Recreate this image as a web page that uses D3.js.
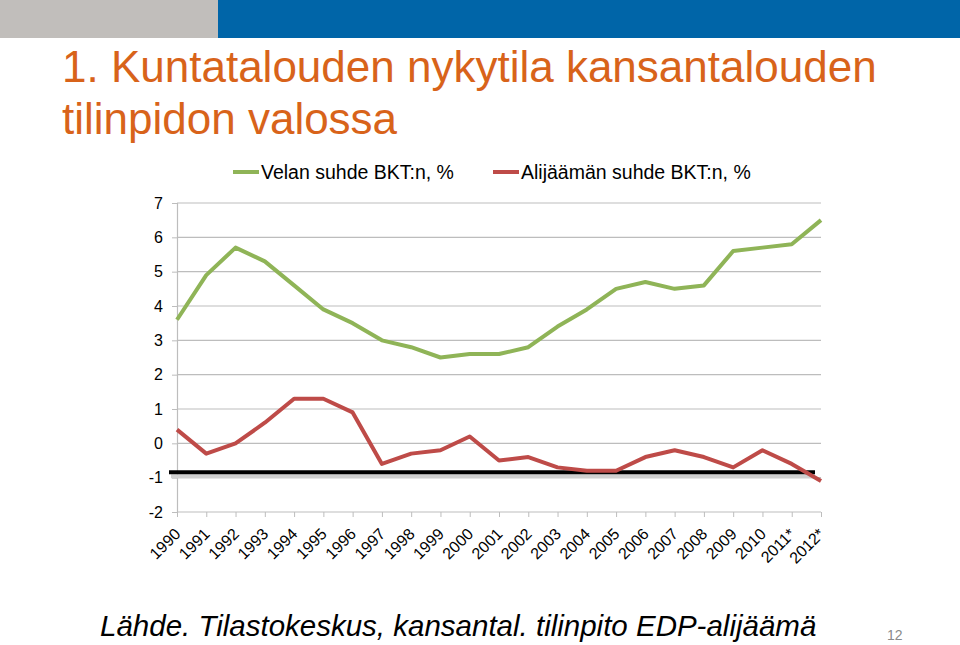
<!DOCTYPE html>
<html>
<head>
<meta charset="utf-8">
<script src="https://cdn.jsdelivr.net/npm/d3@7"></script>
<style>
  body { margin: 0; background: #fff; }
  text { font-family: "Liberation Sans", Arial, sans-serif; }
</style>
</head>
<body>
<div class="chart"></div>
<script>
const years = ["1990", "1991", "1992", "1993", "1994", "1995", "1996", "1997", "1998", "1999", "2000",
  "2001", "2002", "2003", "2004", "2005", "2006", "2007", "2008", "2009", "2010", "2011*", "2012*"];
const velka = [3.6, 4.9, 5.7, 5.3, 4.6, 3.9, 3.5, 3.0, 2.8, 2.5, 2.6, 2.6, 2.8, 3.4, 3.9, 4.5, 4.7, 4.5, 4.6, 5.6, 5.7, 5.8, 6.5];
const alijaama = [0.4, -0.3, 0.0, 0.6, 1.3, 1.3, 0.9, -0.6, -0.3, -0.2, 0.2, -0.5, -0.4, -0.7, -0.8, -0.8, -0.4, -0.2, -0.4, -0.7, -0.2, -0.6, -1.1];
const yTicks = [-2, -1, 0, 1, 2, 3, 4, 5, 6, 7];
const seriesNames = ["Velan suhde BKT:n, %", "Alijäämän suhde BKT:n, %"];
const limitValue = -0.84;

const width = 960, height = 645;
const colors = { green: "#8fb457", red: "#be4b48", title: "#d8631a", grid: "#bdbdbd" };

const svg = d3.select(".chart").append("svg")
  .attr("width", width)
  .attr("height", height);

// top banner
svg.append("rect").attr("x", 0).attr("y", 0).attr("width", 218).attr("height", 38).attr("fill", "#c1bebb");
svg.append("rect").attr("x", 218).attr("y", 0).attr("width", width - 218).attr("height", 38).attr("fill", "#0065a8");

// title
const title = svg.append("text")
  .attr("fill", colors.title)
  .style("font-size", "44px");
title.append("tspan").attr("x", 62).attr("y", 82).text("1. Kuntatalouden nykytila kansantalouden");
title.append("tspan").attr("x", 62).attr("y", 134).text("tilinpidon valossa");

const x = d3.scalePoint().domain(years).range([177, 821]);
const y = d3.scaleLinear().domain([-2, 7]).range([512, 203]);

// gridlines
svg.append("g")
  .selectAll("line")
  .data(yTicks.filter(d => d > -2))
  .join("line")
  .attr("x1", 177).attr("x2", 821)
  .attr("y1", d => y(d)).attr("y2", d => y(d))
  .attr("stroke", colors.grid).attr("stroke-width", 1.2);

// y axis
const yAxis = svg.append("g")
  .attr("transform", "translate(177,0)")
  .call(d3.axisLeft(y).tickValues(yTicks).tickSize(5).tickPadding(9).tickFormat(d3.format("d")));
yAxis.select(".domain").attr("stroke", colors.grid).attr("stroke-width", 1.2);
yAxis.selectAll(".tick line").attr("stroke", colors.grid);
yAxis.selectAll(".tick text")
  .style("font-size", "16px")
  .style("font-family", "Liberation Sans, Arial, sans-serif")
  .attr("fill", "#000")
  .text(d => d < 0 ? "-" + Math.abs(d) : d);

// x axis
const xAxis = svg.append("g")
  .attr("transform", "translate(0,512)")
  .call(d3.axisBottom(x).tickSize(5).tickSizeOuter(0));
xAxis.select(".domain").attr("stroke", colors.grid).attr("stroke-width", 1.2)
  .attr("d", `M177,0H821`);
xAxis.selectAll(".tick line").attr("stroke", colors.grid);
xAxis.selectAll(".tick text")
  .style("font-size", "16px")
  .style("font-family", "Liberation Sans, Arial, sans-serif")
  .attr("fill", "#000")
  .attr("text-anchor", "end")
  .attr("x", 0).attr("y", 0).attr("dy", null)
  .attr("transform", "translate(4,23) rotate(-45)");

// limit line with shadow
svg.append("line")
  .attr("x1", 171).attr("x2", 815)
  .attr("y1", y(limitValue) + 4).attr("y2", y(limitValue) + 4)
  .attr("stroke", "#d0d0d0").attr("stroke-width", 4);
svg.append("line")
  .attr("x1", 169).attr("x2", 815)
  .attr("y1", y(limitValue)).attr("y2", y(limitValue))
  .attr("stroke", "#000").attr("stroke-width", 4);

const line = d3.line().x((d, i) => x(years[i])).y(d => y(d));

svg.append("path")
  .datum(velka)
  .attr("d", line)
  .attr("fill", "none")
  .attr("stroke", colors.green)
  .attr("stroke-width", 4)
  .attr("stroke-linejoin", "round");

svg.append("path")
  .datum(alijaama)
  .attr("d", line)
  .attr("fill", "none")
  .attr("stroke", colors.red)
  .attr("stroke-width", 4)
  .attr("stroke-linejoin", "round");

// legend
const legendItems = [
  { name: seriesNames[0], color: colors.green, x: 233 },
  { name: seriesNames[1], color: colors.red, x: 493 },
];
const legend = svg.append("g")
  .selectAll("g")
  .data(legendItems)
  .join("g")
  .attr("transform", d => `translate(${d.x},172)`);
legend.append("line")
  .attr("x1", 0).attr("x2", 26)
  .attr("stroke", d => d.color).attr("stroke-width", 4);
legend.append("text")
  .attr("x", 28).attr("y", 7)
  .style("font-size", "19.5px")
  .text(d => d.name);

// footer
svg.append("text")
  .attr("x", 100).attr("y", 636)
  .style("font-style", "italic")
  .style("font-size", "29.5px")
  .text("Lähde. Tilastokeskus, kansantal. tilinpito EDP-alijäämä");

svg.append("text")
  .attr("x", 887).attr("y", 640)
  .attr("fill", "#8a8a8a")
  .style("font-size", "14px")
  .text("12");
</script>
</body>
</html>
